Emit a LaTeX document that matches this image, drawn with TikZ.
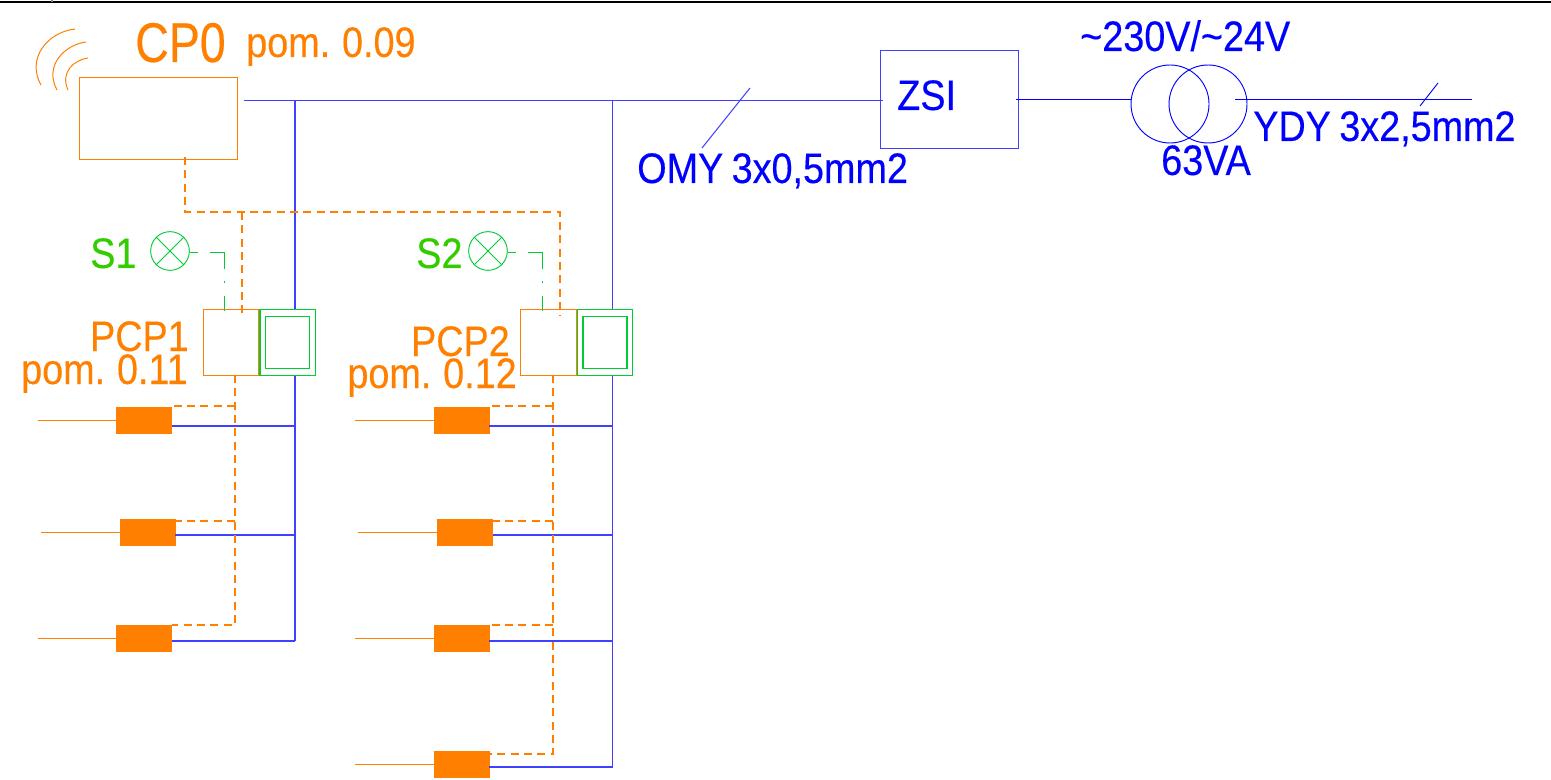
\documentclass[tikz,border=0pt]{standalone}
\usepackage{fontspec}
\setmainfont[FakeStretch=0.885,FakeBold=0.3,WordSpace=0.8]{Liberation Sans}
\newfontfamily\cpfont[FakeStretch=0.83,FakeBold=0.3]{Liberation Sans}
\usepackage{xcolor}
\usetikzlibrary{positioning,fit}
\definecolor{cporange}{HTML}{FF8000}
\definecolor{lampgreen}{HTML}{00CC33}
\definecolor{labelgreen}{HTML}{33CC00}
\tikzstyle{wire}=[draw=blue!75!white,line width=0.8pt]
\tikzstyle{feed}=[draw=cporange,line width=0.75pt]
\tikzstyle{link}=[draw=cporange,line width=0.8pt,dash pattern=on 6pt off 4pt]
\tikzstyle{panel}=[draw=cporange,fill=white,line width=0.95pt,minimum width=41.5pt,minimum height=49pt,inner sep=0pt]
\tikzstyle{screen}=[draw=lampgreen,fill=white,line width=0.95pt,minimum width=41.5pt,minimum height=49pt,inner sep=0pt]
\tikzstyle{inner}=[draw=lampgreen,line width=0.95pt,minimum width=33pt,minimum height=39pt,inner sep=0pt]
\tikzstyle{valve}=[draw=cporange,fill=cporange,minimum width=41.5pt,minimum height=19.5pt,inner sep=0pt]
\tikzstyle{lamp}=[circle,draw=lampgreen,fill=white,line width=0.7pt,minimum size=29pt,inner sep=0pt]
\tikzstyle{coil}=[circle,draw=blue,line width=0.7pt,minimum size=58.5pt,inner sep=0pt]
\tikzstyle{signal}=[draw=lampgreen,line width=0.75pt,dash pattern=on 6pt off 9pt on 23pt off 9pt on 1pt off 10pt on 30pt]
\tikzstyle{big}=[text=cporange,font=\cpfont\fontsize{42}{42}\selectfont,inner sep=0pt]
\tikzstyle{olabel}=[text=cporange,font=\fontsize{32}{32}\selectfont,inner sep=0pt]
\tikzstyle{blabel}=[text=blue,font=\fontsize{32}{32}\selectfont,inner sep=0pt]
\tikzstyle{glabel}=[text=labelgreen,font=\fontsize{32}{32}\selectfont,inner sep=0pt]
\begin{document}
\begin{tikzpicture}[x=0.75pt,y=-0.75pt]
\useasboundingbox (0,0) rectangle (1551,780);
\coordinate (topl) at (0,2);
\coordinate (topr) at (1551,2);
\coordinate (ticka) at (52,0);
\coordinate (tickb) at (52,2);
\draw[black,line width=0.8pt] (topl) -- (topr);
\draw[gray,line width=0.8pt] (ticka) -- (tickb);

% controller
\node [draw=cporange,line width=0.95pt,minimum width=118pt,minimum height=62pt,inner sep=0pt] (cp) at (158.5,118.5) {};
\node [big,anchor=base west] (cpt) at (135,62) {CP0};
\node [olabel,anchor=base west] (cpr) at (246,57) {pom. 0.09};
\coordinate (a1) at (75,29);
\coordinate (a2) at (41,85);
\coordinate (b1) at (86,42);
\coordinate (b2) at (57,90);
\coordinate (c1) at (88,58);
\coordinate (c2) at (68,90);
\draw[feed] (a1) .. controls (48,32) and (26,58) .. (a2);
\draw[feed] (b1) .. controls (64,45) and (44,66) .. (b2);
\draw[feed] (c1) .. controls (74,60) and (60,72) .. (c2);

% supply
\coordinate (bus0) at (244,100.5);
\coordinate (bus1) at (883,100.5);
\coordinate (omya) at (702,148);
\coordinate (omyb) at (750,88);
\node [draw=blue!75!white,line width=0.95pt,minimum width=104pt,minimum height=73pt,inner sep=0pt] (zsi) at (949.5,99.5) {};
\node [blabel,anchor=base west] (zsit) at (897,110) {ZSI};
\draw[wire] (bus0) -- (bus1);
\draw[wire] (omya) -- (omyb);
\node [blabel,anchor=base west] (omy) at (637,183) {OMY 3x0,5mm2};
\node [coil] (t1) at (1170,104) {};
\node [coil] (t2) at (1208,104) {};
\coordinate (w0) at (1016,99.5);
\coordinate (w1) at (1131,99.5);
\coordinate (w2) at (1235,99.5);
\coordinate (w3) at (1472,99.5);
\coordinate (ya) at (1420,106);
\coordinate (yb) at (1438,83);
\draw[blue,line width=0.7pt] (w0) -- (w1);
\draw[blue,line width=0.7pt] (w2) -- (w3);
\draw[blue,line width=0.7pt] (ya) -- (yb);
\node [blabel,anchor=base west] (volt) at (1080,51) {\textasciitilde230V/\textasciitilde24V};
\node [blabel,anchor=base west] (va) at (1161,175) {63VA};
\node [blabel,anchor=base west] (ydy) at (1253,141) {YDY 3x2,5mm2};

% risers
\coordinate (r1t) at (295,100.5);
\coordinate (r1b) at (295,641);
\coordinate (r2t) at (612.5,100.5);
\coordinate (r2b) at (612.5,767);
\draw[wire] (r1t) -- (r1b);
\draw[wire] (r2t) -- (r2b);

% bus between controller and panels
\coordinate (d0) at (185,157);
\coordinate (d1) at (185,212);
\coordinate (d2) at (560,212);
\coordinate (d3) at (560,316);
\coordinate (d4) at (242,212);
\coordinate (d5) at (242,316);

% left panel
\node [panel] (p1) at (231,342.5) {};
\node [screen,right=0pt of p1] (s1) {};
\node [inner] (s1i) at (s1.center) {};
\node [olabel,anchor=base east] (p1t) at (189,351) {PCP1};
\node [olabel,anchor=base east] (p1r) at (188,384) {pom. 0.11};
\node [lamp] (l1) at (170,251) {};
\node [glabel,anchor=base west] (l1t) at (90,268) {S1};
\draw[lampgreen,line width=0.7pt] (l1.north west) -- (l1.south east);
\draw[lampgreen,line width=0.7pt] (l1.north east) -- (l1.south west);
\coordinate (g1) at (224,253);
\coordinate (g1b) at (224,311);
\draw[signal] (l1.east |- g1) -- (g1) -- (g1b);

% right panel
\node [panel] (p2) at (548.5,342.5) {};
\node [screen,right=0pt of p2] (s2) {};
\node [inner] (s2i) at (s2.center) {};
\node [olabel,anchor=base east] (p2t) at (510,356) {PCP2};
\node [olabel,anchor=base east] (p2r) at (517,388) {pom. 0.12};
\node [lamp] (l2) at (488,251) {};
\node [glabel,anchor=base west] (l2t) at (416,268) {S2};
\draw[lampgreen,line width=0.7pt] (l2.north west) -- (l2.south east);
\draw[lampgreen,line width=0.7pt] (l2.north east) -- (l2.south west);
\coordinate (g2) at (542,253);
\coordinate (g2b) at (542,311);
\draw[signal] (l2.east |- g2) -- (g2) -- (g2b);

\draw[link] (d0) -- (d1) -- (d2) -- (d3);
\draw[link] (d4) -- (d5);

% left valves
\node [valve] (v1) at (144,420) {};
\node [valve] (v2) at (147.5,532) {};
\node [valve] (v3) at (144,638.5) {};
% right valves
\node [valve] (v4) at (461.5,420) {};
\node [valve] (v5) at (465,532) {};
\node [valve] (v6) at (461.5,638.5) {};
\node [valve] (v7) at (461.5,764.5) {};

\foreach \v/\x/\b in {v1/38/426,v2/41/535,v3/38/641}{
  \coordinate (fa) at (\x,0);
  \coordinate (fb) at (0,\b);
  \draw[feed] (fa |- \v.west) -- (\v.west);
  \draw[wire] (\v.east |- fb) -- (r1t |- fb);
}
\foreach \v/\x/\b in {v4/355/426,v5/358/535,v6/355/641,v7/355/767}{
  \coordinate (fa) at (\x,0);
  \coordinate (fb) at (0,\b);
  \draw[feed] (fa |- \v.west) -- (\v.west);
  \draw[wire] (\v.east |- fb) -- (r2t |- fb);
}

\coordinate (e1) at (235,375);
\coordinate (e2) at (235,625);
\coordinate (e3) at (553,375);
\coordinate (e4) at (553,754);
\draw[link] (e1) -- (e2) -- (v3.east |- e2);
\draw[link] (e3) -- (e4) -- (v7.east |- e4);
\foreach \v/\e/\h in {v1/e1/406,v2/e1/521,v4/e3/406,v5/e3/521,v6/e3/625}{
  \coordinate (fh) at (0,\h);
  \draw[link] (\e |- fh) -- (\v.east |- fh);
}
\end{tikzpicture}
\end{document}
